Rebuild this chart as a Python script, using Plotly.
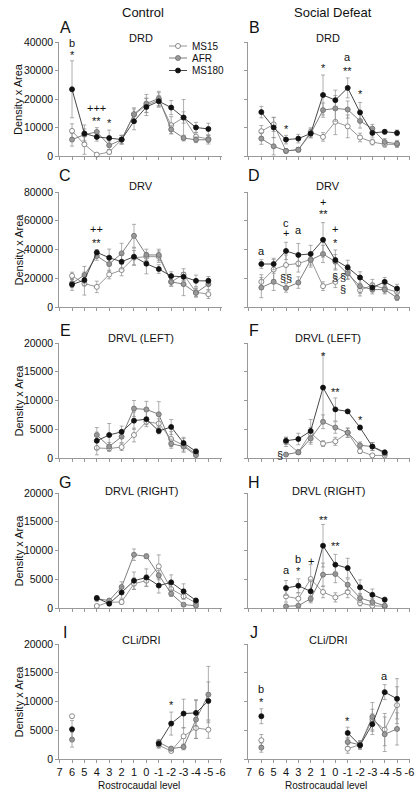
import plotly.graph_objects as go

W, H = 419, 797

# ---------------- data ----------------
LEVELS_12 = [6, 5, 4, 3, 2, 1, 0, -1, -2, -3, -4, -5]
LEVELS_9 = [4, 3, 2, 1, 0, -1, -2, -3, -4]
X_TICKS = [7, 6, 5, 4, 3, 2, 1, 0, -1, -2, -3, -4, -5, -6]
N = None

# A: Control DRD
A_MS15 = [8800, 4100, 470, 1400, 5700, 14500, 17800, 19700, 10800, 13500, 6800, 6000]
A_MS15_err = [2500, 3500, 400, 700, 1500, 2000, 2500, 2500, 3000, 2000, 1500, 1200]
A_AFR = [5750, 7500, 8450, 3750, 5700, 14700, 18400, 20200, 9300, 6300, 5700, 5700]
A_AFR_err = [2300, 2000, 1500, 1500, 1500, 2200, 3200, 2500, 1500, 1000, 1000, 1500]
A_MS180 = [23400, 7900, 6700, 6300, 5800, 12200, 17200, 19200, 17000, 13500, 10000, 9500]
A_MS180_err = [10000, 3000, 1500, 2800, 1500, 3000, 3000, 2000, 2500, 6300, 1800, 2000]

# B: Social Defeat DRD
B_MS15 = [8700, 11100, 1800, 2200, 8400, 6700, 12000, 10400, 6500, 4900, 4100, 4100]
B_MS15_err = [2000, 2500, 600, 600, 1500, 1500, 4500, 4000, 1500, 1000, 1000, 1000]
B_AFR = [6100, 3400, 1800, 2200, 7900, 16100, 16700, 16300, 12300, 9600, 4900, 4300]
B_AFR_err = [2000, 3000, 800, 800, 1500, 2500, 4500, 3000, 2500, 1500, 1200, 1200]
B_MS180 = [15400, 10000, 5750, 6100, 7900, 21400, 19600, 23900, 15300, 8100, 8500, 8100]
B_MS180_err = [2000, 3500, 1500, 1500, 1500, 7000, 3500, 3500, 3500, 1500, 800, 1000]

# C: Control DRV
C_MS15 = [21700, 16300, 14000, 22600, 25700, 34300, 35000, 35000, 17500, 22600, 10300, 8900]
C_MS15_err = [2500, 8000, 4000, 3000, 4000, 5000, 3000, 4000, 3000, 4000, 3000, 3000]
C_AFR = [16500, 22200, 35500, 29900, 37300, 49500, 36200, 36200, 17500, 15900, 9800, 15900]
C_AFR_err = [3000, 6000, 3000, 5000, 7000, 8000, 4000, 4000, 3000, 8000, 3000, 4000]
C_MS180 = [15600, 18700, 38000, 34300, 31500, 35000, 30100, 26400, 21500, 21000, 18200, 18200]
C_MS180_err = [4000, 4000, 2000, 6000, 5000, 6000, 7000, 3000, 3000, 3000, 4000, 3000]

# D: Social Defeat DRV
D_MS15 = [17500, 26100, 29200, 30300, 33100, 14500, 17500, 24500, 11700, 15200, 12800, 10500]
D_MS15_err = [5000, 7000, 7000, 6000, 4000, 3000, 4000, 5000, 4000, 4000, 3000, 3000]
D_AFR = [13500, 17500, 13300, 17000, 32700, 36900, 31500, 23300, 14500, 12100, 12100, 6500]
D_AFR_err = [7000, 6000, 3000, 4000, 5000, 6000, 5000, 4000, 5000, 3000, 3000, 2000]
D_MS180 = [29900, 29900, 39000, 36200, 36900, 46700, 32700, 27500, 20500, 13500, 17500, 12800]
D_MS180_err = [3000, 4000, 6000, 8000, 6000, 12000, 7000, 5000, 4000, 3000, 3000, 3000]

# E: Control DRVL (LEFT)
E_MS15 = [1750, 1650, 1900, 4000, 6300, 6000, 3300, 2200, 750]
E_MS15_err = [1200, 500, 600, 1200, 500, 800, 1300, 1200, 300]
E_AFR = [4000, 2000, 3700, 8600, 8450, 7600, 2500, 2000, 500]
E_AFR_err = [1300, 700, 1000, 1400, 1400, 2200, 800, 800, 200]
E_MS180 = [3000, 4000, 4550, 6500, 6750, 4700, 5400, 2600, 1150]
E_MS180_err = [1500, 2000, 1000, 1500, 1300, 500, 1300, 1000, 400]

# F: Social Defeat DRVL (LEFT)
F_MS15 = [2800, 1000, 4300, 2500, 2900, 4400, 1200, 450, 450]
F_MS15_err = [800, 400, 1000, 500, 700, 800, 400, 200, 200]
F_AFR = [600, 1000, 3400, 6300, 5300, 4400, 2200, 2000, 750]
F_AFR_err = [200, 300, 1000, 1200, 1000, 800, 600, 700, 200]
F_MS180 = [3000, 3300, 4700, 12240, 8450, 8100, 5300, 2000, 1000]
F_MS180_err = [600, 1000, 2000, 5700, 2000, 300, 400, 700, 300]

# G: Control DRVL (RIGHT)
G_MS15 = [350, 1000, 1040, 4230, 4750, 7240, 3300, 2030, 870]
G_MS15_err = [100, 300, 400, 1000, 1000, 2000, 800, 500, 300]
G_AFR = [1600, 1300, 3650, 9270, 9000, 5700, 2500, 580, 400]
G_AFR_err = [400, 300, 900, 1000, 400, 800, 500, 200, 200]
G_MS180 = [1740, 750, 2700, 4750, 5300, 3900, 4460, 2900, 1300]
G_MS180_err = [400, 300, 1000, 1500, 1500, 1300, 1300, 1300, 400]

# H: Social Defeat DRVL (RIGHT)
H_MS15 = [2030, 1620, 5040, 2780, 1850, 2780, 870, 400, 290]
H_MS15_err = [1000, 1000, 2500, 1000, 800, 1000, 500, 300, 200]
H_AFR = [290, 400, 1620, 5800, 5900, 4050, 1740, 1040, 400]
H_AFR_err = [200, 200, 500, 2000, 1500, 1000, 800, 600, 200]
H_MS180 = [3480, 3880, 2900, 10830, 7530, 6950, 3600, 2300, 1450]
H_MS180_err = [1300, 1200, 2000, 3700, 1800, 1700, 1300, 1000, 400]

# I: Control CLi/DRI
I_MS15 = [7440, N, N, N, N, N, N, 2380, 1400, 3950, 5400, 5100]
I_MS15_err = [0, 0, 0, 0, 0, 0, 0, 500, 300, 1500, 1800, 1500]
I_AFR = [3370, N, N, N, N, N, N, 2900, 1800, 2100, 6860, 11200]
I_AFR_err = [1300, 0, 0, 0, 0, 0, 0, 500, 400, 500, 3300, 4900]
I_MS180 = [5170, N, N, N, N, N, N, 2670, 6160, 7900, 8020, 10100]
I_MS180_err = [1500, 0, 0, 0, 0, 0, 0, 500, 2000, 2500, 2300, 3300]

# J: Social Defeat CLi/DRI
J_MS15 = [3260, N, N, N, N, N, N, 1800, 2500, 6860, 5120, 9360]
J_MS15_err = [1000, 0, 0, 0, 0, 0, 0, 800, 700, 1800, 2800, 3200]
J_AFR = [1980, N, N, N, N, N, N, 2970, 2450, 7330, 4300, 5230]
J_AFR_err = [800, 0, 0, 0, 0, 0, 0, 800, 700, 2500, 3000, 2800]
J_MS180 = [7440, N, N, N, N, N, N, 4530, 2380, 6050, 11630, 10470]
J_MS180_err = [1300, 0, 0, 0, 0, 0, 0, 1000, 700, 1800, 1300, 3500]

SERIES = ["MS15", "AFR", "MS180"]
PANEL_TITLES = ["DRD", "DRD", "DRV", "DRV", "DRVL (LEFT)", "DRVL (LEFT)",
                "DRVL (RIGHT)", "DRVL (RIGHT)", "CLi/DRI", "CLi/DRI"]
PANEL_LETTERS = ["A", "B", "C", "D", "E", "F", "G", "H", "I", "J"]
Y_MAX = [40000, 40000, 80000, 80000, 20000, 20000, 20000, 20000, 20000, 20000]
Y_DTICK = [10000, 10000, 20000, 20000, 5000, 5000, 5000, 5000, 5000, 5000]

# significance marks: (panel, x level, y value, text)
SIG = [
    (0, 6, 39600, "b"), (0, 6, 36400, "*"), (0, 4, 17000, "+++"), (0, 4, 13500, "**"), (0, 3, 12600, "*"),
    (1, 4, 10500, "*"), (1, 1, 31900, "*"), (1, -1, 34600, "a"), (1, -1, 30800, "**"), (1, -2, 22900, "*"),
    (2, 4, 54200, "++"), (2, 4, 46700, "**"),
    (3, 6, 39200, "a"), (3, 4, 58400, "c"), (3, 4, 51400, "+"), (3, 3, 53700, "a"),
    (3, 1, 72800, "+"), (3, 1, 67000, "**"), (3, 0, 54200, "+"), (3, 0, 46700, "*"),
    (3, 4, 19900, "§§"), (3, 0, 20600, "§"), (3, -0.6, 20600, "§"), (3, -0.6, 12400, "§"),
    (5, 1, 18250, "*"), (5, 0, 12000, "**"), (5, -2, 7060, "*"), (5, 4.45, 600, "§"),
    (7, 4, 6660, "a"), (7, 3, 8500, "b"), (7, 3, 6950, "*"), (7, 2, 8220, "+"),
    (7, 1, 15900, "**"), (7, 0, 11300, "**"),
    (8, -2, 9940, "*"),
    (9, 6, 12100, "b"), (9, 6, 10500, "*"), (9, -1, 7150, "*"), (9, -4, 14400, "a"),
]

# ---------------- layout geometry (screen pixels) ----------------
COL_X = [(59, 222), (248, 410)]
COL_RANGE = [[7.05, -6.1], [7.08, -6.05]]
ROW_Y = [(42, 156), (192, 307), (343, 458), (493, 608), (644, 759)]
LETTER_Y = [28, 175, 330, 482, 632]
TITLE_Y = [38, 186, 338, 491, 640]
TITLE_X = [141, 328]
LETTER_X = [65, 254]
XLABEL_X = [139, 326]

FONT = "Liberation Sans, Arial, sans-serif"
AX_COL = "#808080"
TXT = "#111111"

STYLE = {
    "MS15": dict(fill="white", edge="#707070", line="#8a8a8a"),
    "AFR": dict(fill="#9a9a9a", edge="#6a6a6a", line="#707070"),
    "MS180": dict(fill="#111111", edge="#111111", line="#333333"),
}

panels = [
    (LEVELS_12, [(A_MS15, A_MS15_err), (A_AFR, A_AFR_err), (A_MS180, A_MS180_err)]),
    (LEVELS_12, [(B_MS15, B_MS15_err), (B_AFR, B_AFR_err), (B_MS180, B_MS180_err)]),
    (LEVELS_12, [(C_MS15, C_MS15_err), (C_AFR, C_AFR_err), (C_MS180, C_MS180_err)]),
    (LEVELS_12, [(D_MS15, D_MS15_err), (D_AFR, D_AFR_err), (D_MS180, D_MS180_err)]),
    (LEVELS_9, [(E_MS15, E_MS15_err), (E_AFR, E_AFR_err), (E_MS180, E_MS180_err)]),
    (LEVELS_9, [(F_MS15, F_MS15_err), (F_AFR, F_AFR_err), (F_MS180, F_MS180_err)]),
    (LEVELS_9, [(G_MS15, G_MS15_err), (G_AFR, G_AFR_err), (G_MS180, G_MS180_err)]),
    (LEVELS_9, [(H_MS15, H_MS15_err), (H_AFR, H_AFR_err), (H_MS180, H_MS180_err)]),
    (LEVELS_12, [(I_MS15, I_MS15_err), (I_AFR, I_AFR_err), (I_MS180, I_MS180_err)]),
    (LEVELS_12, [(J_MS15, J_MS15_err), (J_AFR, J_AFR_err), (J_MS180, J_MS180_err)]),
]


def px(x):
    return x / W


def py(y):
    return 1 - y / H


def label(x, y, text, size, **kw):
    d = dict(x=px(x), y=py(y), xref="paper", yref="paper", text=text, showarrow=False,
             xanchor="center", yanchor="middle", font=dict(family=FONT, size=size, color=TXT))
    d.update(kw)
    return d


fig = go.Figure()
layout = {}
annotations = []
shapes = []

for i, (levels, series) in enumerate(panels):
    row, col = divmod(i, 2)
    n = i + 1
    xa = "x" if n == 1 else f"x{n}"
    ya = "y" if n == 1 else f"y{n}"
    for name, (vals, errs) in zip(SERIES, series):
        st = STYLE[name]
        fig.add_trace(go.Scatter(
            x=levels, y=vals, xaxis=xa, yaxis=ya, mode="lines+markers",
            name=name, showlegend=False, connectgaps=False, cliponaxis=False,
            hoverinfo="skip",
            line=dict(color=st["line"], width=0.9),
            marker=dict(size=5, color=st["fill"], line=dict(color=st["edge"], width=0.8)),
            error_y=dict(type="data", array=errs, visible=True, color="#8c8c8c",
                         thickness=0.7, width=2),
        ))
    x0, x1 = COL_X[col]
    y0, y1 = ROW_Y[row]
    last = row == 4
    layout["xaxis" if n == 1 else f"xaxis{n}"] = dict(
        domain=[px(x0), px(x1)], range=COL_RANGE[col], anchor=ya, automargin=False,
        tickmode="array", tickvals=X_TICKS, ticktext=[str(t) for t in X_TICKS],
        showticklabels=last, ticks="outside", ticklen=3, tickwidth=0.8, tickcolor=AX_COL,
        showline=True, linecolor=AX_COL, linewidth=0.8, showgrid=False, zeroline=False,
        tickfont=dict(family=FONT, size=11, color=TXT), fixedrange=True,
    )
    layout["yaxis" if n == 1 else f"yaxis{n}"] = dict(
        domain=[py(y1), py(y0)], range=[0, Y_MAX[i]], anchor=xa, automargin=False,
        tickmode="linear", tick0=0, dtick=Y_DTICK[i], tickformat="d",
        showticklabels=(col == 0), ticks="outside", ticklen=3, tickwidth=0.8, tickcolor=AX_COL,
        showline=True, linecolor=AX_COL, linewidth=0.8, showgrid=False, zeroline=False,
        tickfont=dict(family=FONT, size=10.5, color=TXT), fixedrange=True,
    )
    annotations.append(label(LETTER_X[col], LETTER_Y[row], PANEL_LETTERS[i], 16))
    annotations.append(label(TITLE_X[col], TITLE_Y[row], PANEL_TITLES[i], 11))
    if col == 0:
        annotations.append(label(18, (y0 + y1) / 2, "Density x Area", 11, textangle=-90))
    if last:
        annotations.append(label(XLABEL_X[col], 785, "Rostrocaudal level", 10))

for (p, xv, yv, t) in SIG:
    n = p + 1
    xa = "x" if n == 1 else f"x{n}"
    ya = "y" if n == 1 else f"y{n}"
    annotations.append(dict(x=xv, y=yv, xref=xa, yref=ya, text=t, showarrow=False,
                            xanchor="center", yanchor="middle", borderpad=0,
                            yshift=-3 if "*" in t else 0,
                            font=dict(family=FONT, size=11, color=TXT)))

# column titles
annotations.append(label(143, 13, "Control", 13))
annotations.append(label(333, 13, "Social Defeat", 13))

# legend (panel A, upper right)
LEG_Y = [46, 58, 70.5]
for name, ly in zip(SERIES, LEG_Y):
    st = STYLE[name]
    shapes.append(dict(type="line", xref="paper", yref="paper", x0=px(169), x1=px(187),
                       y0=py(ly), y1=py(ly), line=dict(color=st["line"], width=0.9)))
    shapes.append(dict(type="circle", xref="paper", yref="paper", x0=px(175.5), x1=px(180.5),
                       y0=py(ly + 2.5), y1=py(ly - 2.5), fillcolor=st["fill"],
                       line=dict(color=st["edge"], width=0.8)))
    annotations.append(label(190, ly, name, 10, xanchor="left"))

fig.update_layout(
    width=W, height=H, margin=dict(l=0, r=0, t=0, b=0),
    paper_bgcolor="white", plot_bgcolor="white", showlegend=False, hovermode=False,
    annotations=annotations, shapes=shapes, **layout,
)

fig.write_html("out.html", config={"displayModeBar": False, "staticPlot": True},
               post_script="document.body.style.margin='0';document.body.style.overflow='hidden';")
